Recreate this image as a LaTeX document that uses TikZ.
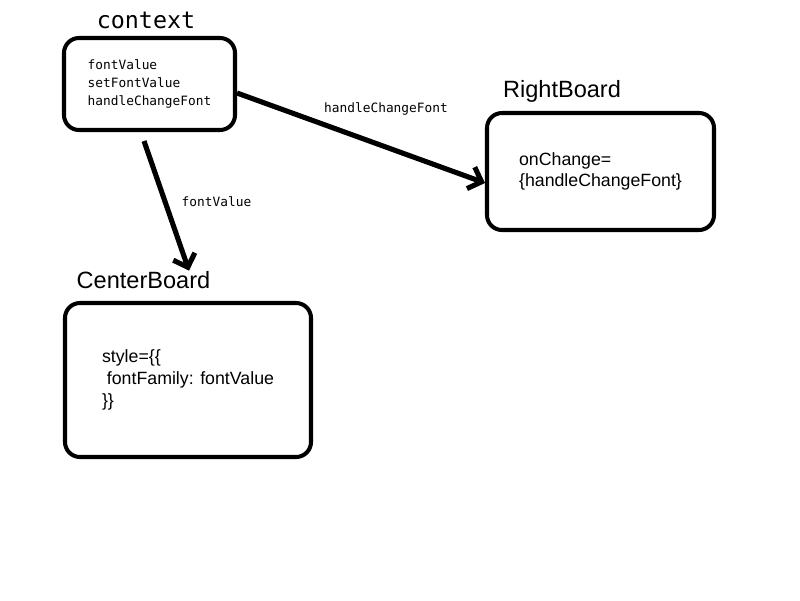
\documentclass[tikz,border=0pt]{standalone}
\usepackage{fontspec}
\setmainfont{Liberation Sans}
\setmonofont{DejaVu Sans Mono}
\usetikzlibrary{arrows.meta}

\begin{document}
\begin{tikzpicture}[
    board/.style={rectangle, draw=black, line width=2.3pt, rounded corners=0.3cm, align=left, font=\fontsize{10.1}{12.4}\selectfont},
    title/.style={font=\fontsize{13.4}{16}\selectfont},
    arrow/.style={-{Straight Barb[length=6.5pt,width=13pt]}, line width=2.9pt},
    lbl/.style={font=\ttfamily\fontsize{7.3}{9}\selectfont}
]
\useasboundingbox (0,0) rectangle (16,-12);

% Context
\node[title, font=\ttfamily\fontsize{13.3}{16}\selectfont] (ctxtitle) at (2.92,-0.4) {context};
\node[board, minimum width=3.42cm, minimum height=1.84cm, font=\ttfamily\fontsize{7.3}{10.5}\selectfont] (ctx) at (2.99,-1.68) {fontValue\\setFontValue\\handleChangeFont};

% RightBoard
\node[title] (rbtitle) at (11.24,-1.82) {RightBoard};
\node[board, minimum width=4.54cm, minimum height=2.34cm] (rb) at (12.01,-3.43) {onChange=\\\{handleChangeFont\}};

% CenterBoard
\node[title] (cbtitle) at (2.87,-5.6) {CenterBoard};
\node[board, minimum width=4.92cm, minimum height=3.08cm] (cb) at (3.76,-7.6) {style=\{\{\\\ fontFamily: fontValue\\\}\}};

% Connections
\draw[arrow] ([yshift=-0.18cm]ctx.east) -- node[lbl, midway, xshift=0.5cm, yshift=0.58cm] {handleChangeFont} ([yshift=-0.23cm]rb.west);
\draw[arrow] ([xshift=-0.11cm,yshift=-0.18cm]ctx.south) -- node[lbl, midway, xshift=1cm, yshift=0.08cm] {fontValue} ([xshift=0.91cm,yshift=-0.11cm]cbtitle.north);

\end{tikzpicture}
\end{document}
